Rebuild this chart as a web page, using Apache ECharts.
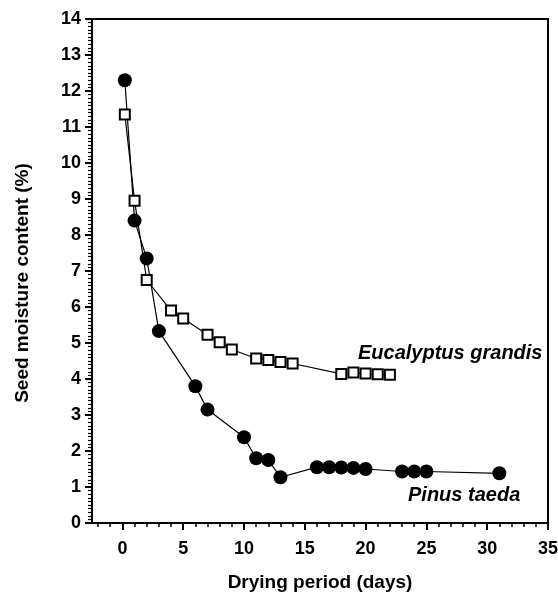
<!DOCTYPE html>
<html>
<head>
<meta charset="utf-8">
<script src="https://cdn.jsdelivr.net/npm/echarts@6/dist/echarts.min.js"></script>
<style>
html,body{margin:0;padding:0;background:#fff;}
#chart{width:558px;height:594px;}
</style>
</head>
<body>
<div id="chart"></div>
<script>
// Pinus taeda (filled circles)
const pinusDays = [0.2, 1, 2, 3, 6, 7, 10, 11, 12, 13, 16, 17, 18, 19, 20, 23, 24, 25, 31];
const pinusMC   = [12.3, 8.4, 7.35, 5.33, 3.8, 3.15, 2.38, 1.8, 1.75, 1.27, 1.55, 1.55, 1.54, 1.53, 1.5, 1.43, 1.43, 1.43, 1.38];
// Eucalyptus grandis (open squares)
const eucDays = [0.2, 1, 2, 4, 5, 7, 8, 9, 11, 12, 13, 14, 18, 19, 20, 21, 22];
const eucMC   = [11.35, 8.95, 6.75, 5.9, 5.68, 5.23, 5.02, 4.82, 4.57, 4.53, 4.47, 4.43, 4.14, 4.18, 4.15, 4.13, 4.12];
// Axis ticks
const xMajorTicks = [0, 5, 10, 15, 20, 25, 30, 35];
const xMinorTicks = [-2, -1, 0, 1, 2, 3, 4, 5, 6, 7, 8, 9, 10, 11, 12, 13, 14, 15, 16, 17, 18, 19, 20, 21, 22, 23, 24, 25, 26, 27, 28, 29, 30, 31, 32, 33, 34, 35];
const xLabel = 'Drying period (days)';
const yLabel = 'Seed moisture content (%)';
const labelEuc = 'Eucalyptus grandis';
const labelPinus = 'Pinus taeda';

const font = 'Liberation Sans, Arial, sans-serif';
const chart = echarts.init(document.getElementById('chart'));
const pair = (xs, ys) => xs.map((x, i) => [x, ys[i]]);

chart.setOption({
  animation: false,
  backgroundColor: '#fff',
  grid: { left: 92, right: 10, top: 19, bottom: 71, show: true, borderColor: '#000', borderWidth: 2, backgroundColor: 'transparent', containLabel: false, outerBoundsMode: 'none' },
  xAxis: [{
    type: 'value', min: -2.5, max: 35,
    name: xLabel, nameLocation: 'middle', nameGap: 50,
    nameTextStyle: { fontFamily: font, fontWeight: 'bold', fontSize: 19, color: '#000' },
    axisLine: { show: true, onZero: false, lineStyle: { color: '#000', width: 2 } },
    axisTick: { show: true, customValues: xMajorTicks, length: 7, lineStyle: { color: '#000', width: 2 } },
    axisLabel: { customValues: xMajorTicks, margin: 17, fontFamily: font, fontWeight: 'bold', fontSize: 18, color: '#000' },
    splitLine: { show: false }
  }, {
    type: 'value', min: -2.5, max: 35, position: 'bottom',
    axisLine: { show: false, onZero: false },
    axisTick: { show: true, customValues: xMinorTicks, length: 4, lineStyle: { color: '#000', width: 1.5 } },
    axisLabel: { show: false },
    splitLine: { show: false }
  }],
  yAxis: {
    type: 'value', min: 0, max: 14, interval: 1,
    name: yLabel, nameLocation: 'middle', nameGap: 60,
    nameTextStyle: { fontFamily: font, fontWeight: 'bold', fontSize: 19, color: '#000', padding: [0, 24, 0, 0] },
    axisLine: { show: true, onZero: false, lineStyle: { color: '#000', width: 2 } },
    axisTick: { show: true, length: 7, lineStyle: { color: '#000', width: 2 } },
    minorTick: { show: true, splitNumber: 10, length: 4, lineStyle: { color: '#000', width: 1.2 } },
    axisLabel: { margin: 11, fontFamily: font, fontWeight: 'bold', fontSize: 18, color: '#000' },
    splitLine: { show: false }
  },
  series: [{
    name: labelPinus, type: 'line', xAxisIndex: 0,
    data: pair(pinusDays, pinusMC),
    symbol: 'circle', symbolSize: 14,
    lineStyle: { color: '#000', width: 1.2 },
    itemStyle: { color: '#000', borderColor: '#000', borderWidth: 0 },
    z: 2
  }, {
    name: labelEuc, type: 'line', xAxisIndex: 0,
    data: pair(eucDays, eucMC),
    symbol: 'rect', symbolSize: 10,
    lineStyle: { color: '#000', width: 1.2 },
    itemStyle: { color: '#fff', borderColor: '#000', borderWidth: 2 },
    z: 3
  }],
  graphic: [{
    type: 'text', left: 358, top: 343,
    style: { text: labelEuc, font: 'italic bold 20px Liberation Sans, Arial, sans-serif', fill: '#000' }
  }, {
    type: 'text', left: 408, top: 485,
    style: { text: labelPinus, font: 'italic bold 20px Liberation Sans, Arial, sans-serif', fill: '#000' }
  }]
});
</script>
</body>
</html>
